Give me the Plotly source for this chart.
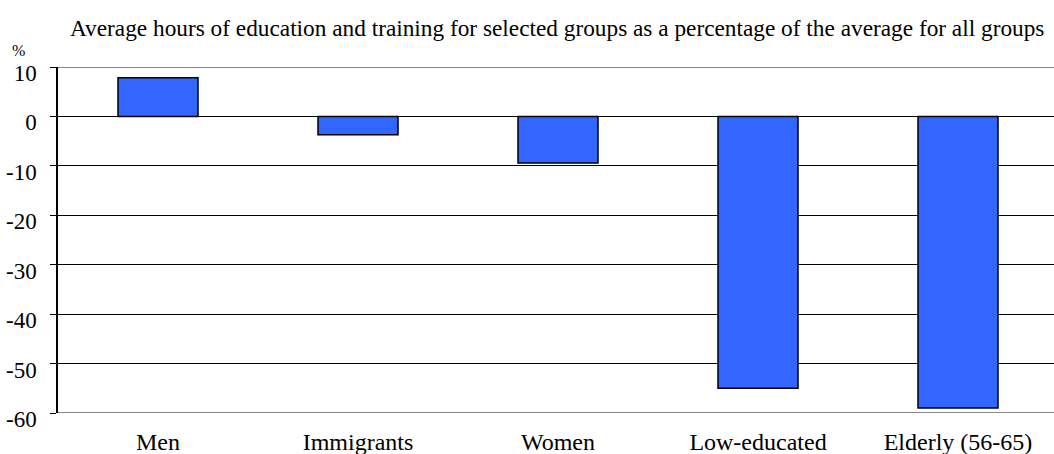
import plotly.graph_objects as go

groups = ["Men", "Immigrants", "Women", "Low-educated", "Elderly (56-65)"]
pct_vs_all = [7.8, -3.7, -9.4, -55.0, -59.0]
y_ticks = [10, 0, -10, -20, -30, -40, -50, -60]

title_text = ("Average hours of education and training for selected groups "
              "as a percentage of the average for all groups")

serif = "Liberation Serif, Times New Roman, serif"

PLOT_L, PLOT_W, PLOT_T, PLOT_H = 58, 996, 67, 346

fig = go.Figure(
    go.Bar(
        x=groups,
        y=pct_vs_all,
        width=0.4,
        marker=dict(color="#3366FF", line=dict(color="black", width=1.5)),
    )
)

fig.update_layout(
    width=1054,
    height=454,
    margin=dict(l=PLOT_L, r=0, t=PLOT_T, b=41),
    paper_bgcolor="white",
    plot_bgcolor="white",
    showlegend=False,
    font=dict(family=serif, color="black"),
    annotations=[
        dict(text=title_text, xref="paper", x=(557 - PLOT_L) / PLOT_W,
             yref="paper", y=1 + (PLOT_T - 28) / PLOT_H,
             xanchor="center", yanchor="middle", showarrow=False,
             font=dict(size=23.3)),
        dict(text="%", xref="paper", x=(18 - PLOT_L) / PLOT_W,
             yref="paper", y=1 + (PLOT_T - 50) / PLOT_H,
             xanchor="center", yanchor="middle", showarrow=False,
             font=dict(size=16)),
    ],
)

fig.update_xaxes(
    range=[-0.5, 4.48],
    showline=False,
    showgrid=False,
    ticks="",
    ticklabelstandoff=12,
    tickfont=dict(size=24),
)
fig.update_yaxes(
    range=[-60, 10],
    tickvals=y_ticks,
    ticktext=[str(v) for v in y_ticks],
    showgrid=True,
    gridcolor="black",
    gridwidth=1,
    zeroline=False,
    showline=True,
    linecolor="black",
    linewidth=1.5,
    ticks="outside",
    ticklen=6,
    tickcolor="black",
    ticklabelstandoff=9,
    ticklabelshift=6,
    tickfont=dict(size=23),
)

# lighter frame lines at the top and bottom of the value range
for yv in (y_ticks[0], y_ticks[-1]):
    fig.add_shape(type="line", xref="paper", x0=0, x1=1, yref="y", y0=yv, y1=yv,
                  line=dict(color="#888888", width=2), layer="above")

fig.write_html("out.html")
